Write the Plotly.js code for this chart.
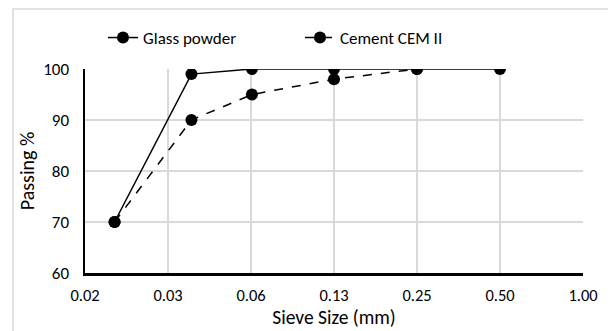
<!DOCTYPE html>
<html>
<head>
<meta charset="utf-8">
<script src="https://cdn.plot.ly/plotly-3.0.1.min.js"></script>
<style>
html,body{margin:0;padding:0;background:#fff;}
#chart{width:608px;height:331px;}
</style>
</head>
<body>
<div id="chart"></div>
<script>
// Data
var sieveGlass = [0.02, 0.038, 0.063, 0.125, 0.25, 0.5];
var passingGlass = [70, 99, 100, 100, 100, 100];
var sieveCement = [0.02, 0.038, 0.063, 0.125, 0.25];
var passingCement = [70, 90, 95, 98, 100];
var xTickVals = [0.015625, 0.03125, 0.0625, 0.125, 0.25, 0.5, 1];
var xTickText = ["0.02", "0.03", "0.06", "0.13", "0.25", "0.50", "1.00"];
var yTickVals = [60, 70, 80, 90, 100];

var W = 608, H = 331;
var m = {l: 85, r: 25, t: 69, b: 58};
var pw = W - m.l - m.r, ph = H - m.t - m.b;
function px(x){ return (x - m.l) / pw; }
function py(y){ return (H - m.b - y) / ph; }

var fontFam = "Carlito, Calibri, Lato, 'Open Sans', sans-serif";

var traces = [
  {
    x: sieveGlass, y: passingGlass, name: "Glass powder",
    mode: "lines+markers", type: "scatter",
    line: {color: "#000", width: 1.5, dash: "solid"},
    marker: {color: "#000", size: 12, symbol: "circle"}
  },
  {
    x: sieveCement, y: passingCement, name: "Cement CEM II",
    mode: "lines+markers", type: "scatter",
    line: {color: "#000", width: 1.5, dash: "dash"},
    marker: {color: "#000", size: 12, symbol: "circle"}
  }
];

var layout = {
  width: W, height: H,
  margin: m,
  paper_bgcolor: "#fff", plot_bgcolor: "#fff",
  font: {family: fontFam, size: 17, color: "#000"},
  showlegend: true,
  legend: {
    orientation: "h", x: px(300), xanchor: "center", y: py(38), yanchor: "middle",
    font: {family: fontFam, size: 17, color: "#000"},
    entrywidth: 152, entrywidthmode: "pixels",
    tracegroupgap: 0
  },
  xaxis: {
    type: "log",
    range: [Math.log10(0.015625), 0],
    tickvals: xTickVals, ticktext: xTickText,
    showgrid: true, gridcolor: "#d9d9d9", gridwidth: 1.3,
    showline: true, linecolor: "#000", linewidth: 2.5,
    ticks: "", ticklen: 0,
    ticklabelstandoff: 6,
    tickfont: {family: fontFam, size: 16.5, color: "#000"},
    zeroline: false,
    title: {text: "Sieve Size (mm)", font: {family: fontFam, size: 19.5, color: "#000"}, standoff: 3}
  },
  yaxis: {
    range: [60, 100],
    tickvals: yTickVals,
    showgrid: true, gridcolor: "#d9d9d9", gridwidth: 1.3,
    showline: true, linecolor: "#000", linewidth: 2.5,
    ticks: "", ticklen: 0,
    ticklabelstandoff: 10,
    tickfont: {family: fontFam, size: 17, color: "#000"},
    zeroline: false,
    title: {text: "Passing %", font: {family: fontFam, size: 20, color: "#000"}, standoff: 3}
  },
  shapes: [
    {type: "rect", xref: "paper", yref: "paper",
     x0: px(13), x1: px(620), y0: py(9), y1: py(340),
     line: {color: "#d9d9d9", width: 1.5}, fillcolor: "rgba(0,0,0,0)", layer: "below"}
  ]
};

Plotly.newPlot("chart", traces, layout, {displayModeBar: false, staticPlot: true});
</script>
</body>
</html>
